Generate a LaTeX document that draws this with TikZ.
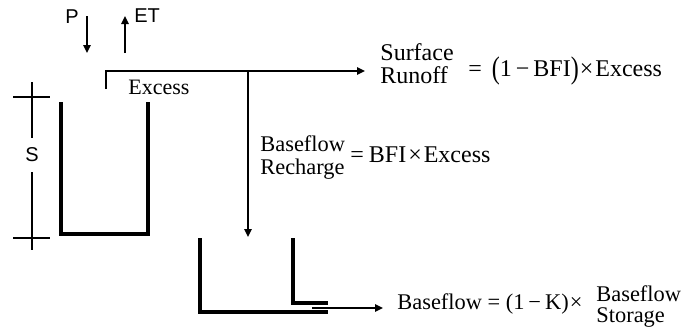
\documentclass[tikz,border=0pt]{standalone}
\usepackage{fontspec}
\setmainfont{Liberation Serif}
\newfontfamily\sansf{Liberation Sans}
\usetikzlibrary{arrows.meta}
\tikzset{
  tip/.style={-{Triangle[length=4pt,width=3.6pt]}},
  wall/.style={line width=2pt},
  flow/.style={line width=1.1pt, tip},
  dim/.style={line width=0.6pt},
  lbl/.style={inner sep=0pt, font=\sansf\fontsize{10}{11}\selectfont},
  eq/.style={inner sep=0pt, font=\fontsize{12}{12}\selectfont},
  stack/.style={inner sep=0pt, align=left}
}
\newcommand{\bigpar}[1]{\raisebox{-1.3pt}{\scalebox{1}[1.3]{#1}}}
\begin{document}
\begin{tikzpicture}[x=0.5pt,y=-0.5pt]
\useasboundingbox (0,0) rectangle (684,329);
% inputs
\node[lbl, anchor=base west] (P) at (65,23) {P};
\node[lbl, anchor=base west] (ET) at (134,22) {ET};
\coordinate (Ptop) at (87,16); \coordinate (Pbot) at (87,53);
\coordinate (Ebot) at (125,53); \coordinate (Etop) at (125,16);
\draw[flow] (Ptop) -- (Pbot);
\draw[flow] (Ebot) -- (Etop);
% excess channel
\coordinate (lip) at (106,89); \coordinate (lipt) at (106,71);
\coordinate (split) at (248,71); \coordinate (srend) at (365,71);
\coordinate (rchend) at (248,237);
\draw[line width=1.4pt, tip] (lip) -- (lipt) -- (srend);
\draw[flow] (split) -- (rchend);
\node[inner sep=0pt, anchor=base west, font=\fontsize{11}{11}\selectfont] (excess) at (128,94) {Excess};
% upper bucket
\coordinate (b1) at (61,102); \coordinate (b2) at (61,234);
\coordinate (b3) at (148,234); \coordinate (b4) at (148,102);
\draw[wall] (b1) -- (b2) -- (b3) -- (b4);
% S dimension
\coordinate (s1) at (32,82); \coordinate (s2) at (32,138);
\coordinate (s3) at (32,172); \coordinate (s4) at (32,250);
\coordinate (t1) at (13,97); \coordinate (t2) at (50,97);
\coordinate (t3) at (13,238); \coordinate (t4) at (50,238);
\draw[dim] (s1) -- (s2) (s3) -- (s4) (t1) -- (t2) (t3) -- (t4);
\node[lbl] (S) at (32,155) {S};
% lower bucket
\coordinate (c1) at (200,238); \coordinate (c2) at (200,312); \coordinate (c3) at (328,312);
\coordinate (d1) at (293,238); \coordinate (d2) at (293,303); \coordinate (d3) at (328,303);
\draw[wall] (c1) -- (c2) -- (c3);
\draw[wall] (d1) -- (d2) -- (d3);
\coordinate (o1) at (312,308); \coordinate (o2) at (383,308);
\draw[line width=1.1pt, tip] (o1) -- (o2);
% equations
\node[stack, anchor=west, font=\fontsize{12}{11.5}\selectfont] (sr) at (380,64) {Surface\\Runoff};
\node[eq, anchor=base west] (sreq) at (468,76)
  {=\hspace{5pt}\bigpar{(}1\hspace{2pt}−\hspace{2pt}BFI\bigpar{)}\hspace{0.5pt}×\hspace{1pt}Excess};
\node[stack, anchor=west, font=\fontsize{11.2}{11.5}\selectfont] (br) at (260,158) {Baseflow\\Recharge};
\node[eq, anchor=base west] (breq) at (350,162)
  {=\hspace{2.5pt}BFI\hspace{1pt}×\hspace{1pt}Excess};
\node[eq, anchor=base west, font=\fontsize{11.2}{11.2}\selectfont] (bf) at (397,309)
  {Baseflow = (1\hspace{2pt}−\hspace{2pt}K)\hspace{0.5pt}×};
\node[stack, anchor=west, font=\fontsize{11.2}{10.5}\selectfont] (bs) at (596,307) {Baseflow\\Storage};
\end{tikzpicture}
\end{document}
